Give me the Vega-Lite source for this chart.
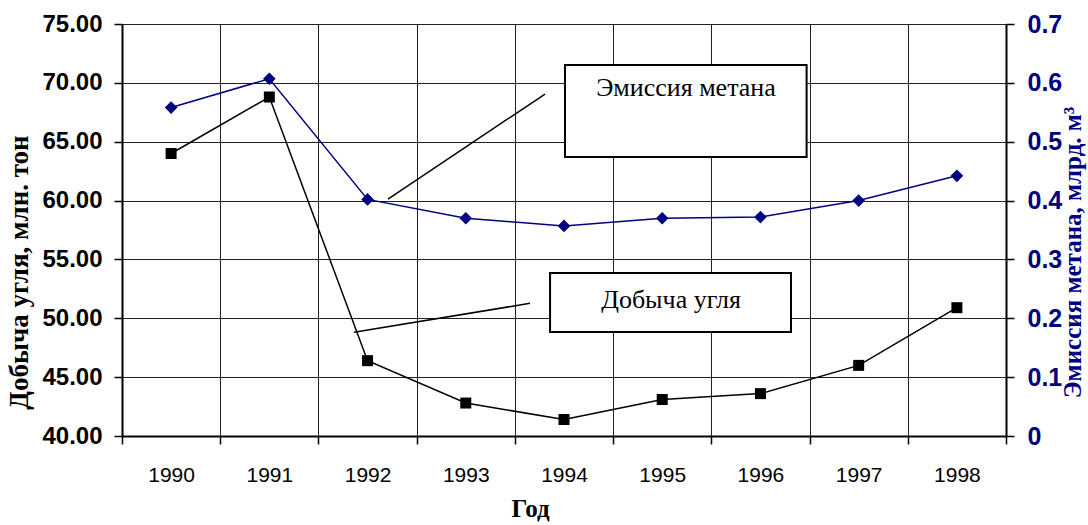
{
  "$schema": "https://vega.github.io/schema/vega-lite/v6.json",
  "width": 884,
  "height": 412,
  "autosize": {"type": "none"},
  "padding": {"left": 122, "top": 24, "right": 82, "bottom": 89},
  "background": "white",
  "config": {"view": {"stroke": null}},
  "datasets": {
    "main": [
      {"year": "1990", "coal": 64.0, "methane": 0.558},
      {"year": "1991", "coal": 68.8, "methane": 0.607},
      {"year": "1992", "coal": 46.4, "methane": 0.402},
      {"year": "1993", "coal": 42.8, "methane": 0.370},
      {"year": "1994", "coal": 41.4, "methane": 0.357},
      {"year": "1995", "coal": 43.1, "methane": 0.370},
      {"year": "1996", "coal": 43.6, "methane": 0.372},
      {"year": "1997", "coal": 46.0, "methane": 0.400},
      {"year": "1998", "coal": 50.9, "methane": 0.442}
    ],
    "leaders": [
      {"x": 2.708, "x2": 4.307, "y": 60.13, "y2": 69.05},
      {"x": 2.362, "x2": 4.154, "y": 48.81, "y2": 51.27}
    ],
    "boxes": [
      {"x": 4.51, "x2": 6.97, "y": 71.52, "y2": 63.70},
      {"x": 4.358, "x2": 6.811, "y": 53.85, "y2": 48.83}
    ],
    "notes": [
      {"x": 5.742, "y": 69.6, "label": "Эмиссия метана"},
      {"x": 5.59, "y": 51.55, "label": "Добыча угля"}
    ]
  },
  "layer": [
    {
      "data": {"name": "main"},
      "mark": {"type": "line", "color": "#000000", "strokeWidth": 1.5,
        "point": {"shape": "square", "size": 121, "filled": true, "color": "#000000", "opacity": 1}},
      "encoding": {
        "x": {"field": "year", "type": "ordinal", "bandPosition": 0.5,
          "scale": {"type": "band", "paddingInner": 0, "paddingOuter": 0},
          "axis": {"title": "Год", "tickBand": "extent", "grid": true, "gridColor": "#222222", "gridWidth": 1, "gridOpacity": 1,
            "domainColor": "#000000", "domainWidth": 2, "tickColor": "#000000", "tickWidth": 1.5, "tickSize": 8,
            "labelAngle": 0, "labelFont": "Liberation Sans", "labelFontSize": 21, "labelColor": "#000000", "labelPadding": 20,
            "titleFont": "Liberation Serif", "titleFontSize": 25, "titleFontWeight": "bold", "titleColor": "#000000", "titlePadding": 11, "titleX": 408}},
        "y": {"field": "coal", "type": "quantitative",
          "scale": {"domain": [40, 75], "nice": false, "zero": false},
          "axis": {"title": "Добыча угля, млн. тон", "values": [40, 45, 50, 55, 60, 65, 70, 75], "format": ".2f",
            "grid": true, "gridColor": "#222222", "gridWidth": 1, "gridOpacity": 1,
            "domainColor": "#000000", "domainWidth": 2, "tickColor": "#000000", "tickWidth": 1.5, "tickSize": 8,
            "labelFont": "Liberation Sans", "labelFontSize": 24, "labelFontWeight": "bold", "labelColor": "#000000", "labelPadding": 12,
            "titleFont": "Liberation Serif", "titleFontSize": 27, "titleFontWeight": "bold", "titleColor": "#000000", "titlePadding": 8, "titleY": 248}}
      }
    },
    {
      "data": {"name": "main"},
      "mark": {"type": "line", "color": "#000080", "strokeWidth": 1.5,
        "point": {"shape": "diamond", "size": 160, "filled": true, "color": "#000080", "opacity": 1}},
      "encoding": {
        "x": {"field": "year", "type": "ordinal", "bandPosition": 0.5,
          "scale": {"type": "band", "paddingInner": 0, "paddingOuter": 0}, "axis": null},
        "y": {"field": "methane", "type": "quantitative",
          "scale": {"domain": [0, 0.7], "nice": false, "zero": false},
          "axis": {"orient": "right", "title": "Эмиссия метана, млрд. м³", "values": [0, 0.1, 0.2, 0.3, 0.4, 0.5, 0.6, 0.7],
            "labelExpr": "datum.value == 0 ? '0' : format(datum.value, '.1f')", "grid": false,
            "domainColor": "#000000", "domainWidth": 2, "tickColor": "#000000", "tickWidth": 1.5, "tickSize": 8,
            "labelFont": "Liberation Sans", "labelFontSize": 25, "labelFontWeight": "bold", "labelColor": "#000080", "labelPadding": 13,
            "titleFont": "Liberation Serif", "titleFontSize": 25, "titleFontWeight": "bold", "titleColor": "#000080", "titlePadding": -1, "titleAngle": 270, "titleBaseline": "top", "titleY": 228}}
      }
    },
    {
      "data": {"name": "leaders"},
      "mark": {"type": "rule", "color": "#000000", "strokeWidth": 1.5},
      "encoding": {
        "x": {"field": "x", "type": "quantitative", "scale": {"domain": [0, 9], "nice": false, "zero": false}, "axis": null},
        "x2": {"field": "x2"},
        "y": {"field": "y", "type": "quantitative", "scale": {"domain": [40, 75], "nice": false, "zero": false}, "axis": null},
        "y2": {"field": "y2"}
      }
    },
    {
      "data": {"name": "boxes"},
      "mark": {"type": "rect", "fill": "#ffffff", "stroke": "#000000", "strokeWidth": 2},
      "encoding": {
        "x": {"field": "x", "type": "quantitative", "scale": {"domain": [0, 9], "nice": false, "zero": false}, "axis": null},
        "x2": {"field": "x2"},
        "y": {"field": "y", "type": "quantitative", "scale": {"domain": [40, 75], "nice": false, "zero": false}, "axis": null},
        "y2": {"field": "y2"}
      }
    },
    {
      "data": {"name": "notes"},
      "mark": {"type": "text", "font": "Liberation Serif", "fontSize": 26, "color": "#000000", "align": "center", "baseline": "middle"},
      "encoding": {
        "x": {"field": "x", "type": "quantitative", "scale": {"domain": [0, 9], "nice": false, "zero": false}, "axis": null},
        "y": {"field": "y", "type": "quantitative", "scale": {"domain": [40, 75], "nice": false, "zero": false}, "axis": null},
        "text": {"field": "label"}
      }
    }
  ],
  "resolve": {"scale": {"x": "independent", "y": "independent"}}
}
